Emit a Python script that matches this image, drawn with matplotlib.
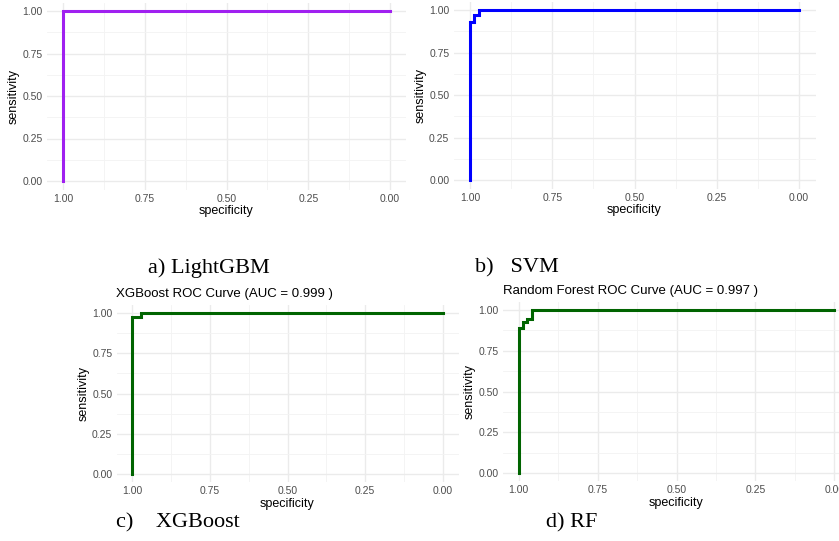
import matplotlib
matplotlib.use("Agg")
import matplotlib.pyplot as plt
import numpy as np

plt.rcParams["font.family"] = ["Liberation Sans", "DejaVu Sans"]

# ROC points (specificity, sensitivity)
lgbm_spec = [1.0, 1.0, 0.0]
lgbm_sens = [0.0, 1.0, 1.0]

svm_spec = [1.0, 1.0, 0.987, 0.972, 0.0]
svm_sens = [0.0, 0.93, 0.97, 1.0, 1.0]

xgb_spec = [1.0, 1.0, 0.972, 0.0]
xgb_sens = [0.0, 0.973, 1.0, 1.0]

rf_spec = [1.0, 1.0, 0.986, 0.974, 0.957, 0.0]
rf_sens = [0.0, 0.888, 0.928, 0.944, 1.0, 1.0]

ticks = [0.0, 0.25, 0.5, 0.75, 1.0]
tick_labels = ["0.00", "0.25", "0.50", "0.75", "1.00"]

W, H = 839, 541
fig = plt.figure(figsize=(W / 100, H / 100), dpi=100)


def add_panel(rect_px, spec, sens, color, title=None):
    l, t, r, b = rect_px
    ax = fig.add_axes([l / W, 1 - b / H, (r - l) / W, (b - t) / H])
    ax.plot(spec, sens, drawstyle="steps-post", color=color, lw=2.2,
            solid_joinstyle="miter", zorder=3)
    ax.set_xlim(1.05, -0.05)
    ax.set_ylim(-0.05, 1.05)
    ax.set_xticks(ticks)
    ax.set_xticklabels(tick_labels)
    ax.set_yticks(ticks)
    ax.set_yticklabels(tick_labels)
    ax.set_xticks(np.arange(0.125, 1, 0.25), minor=True)
    ax.set_yticks(np.arange(0.125, 1, 0.25), minor=True)
    ax.grid(which="major", color="#EBEBEB", lw=1.0)
    ax.grid(which="minor", color="#F3F3F3", lw=0.6)
    ax.set_axisbelow(True)
    for s in ax.spines.values():
        s.set_visible(False)
    ax.tick_params(which="both", length=0, labelsize=7.5, labelcolor="#4D4D4D", pad=3)
    ax.set_xlabel("specificity", fontsize=9, labelpad=1)
    ax.set_ylabel("sensitivity", fontsize=9, labelpad=2)
    if title:
        ax.set_title(title, fontsize=9.5, loc="left", pad=6)
    return ax


add_panel((46.6, 2.5, 406.4, 189.5), lgbm_spec, lgbm_sens, "#A020F0")
add_panel((453.5, 1.5, 815.5, 188.5), svm_spec, svm_sens, "#0000FF")
add_panel((116.5, 305, 458.5, 482), xgb_spec, xgb_sens, "#006400",
          "XGBoost ROC Curve (AUC = 0.999 )")
add_panel((503, 302, 850, 481), rf_spec, rf_sens, "#006400",
          "Random Forest ROC Curve (AUC = 0.997 )")

cap = dict(fontsize=16, family="Liberation Serif", va="center", ha="left")
fig.text(148 / W, 1 - 268 / H, "a) LightGBM", **cap)
fig.text(475 / W, 1 - 268 / H, "b)   SVM", **cap)
fig.text(116 / W, 1 - 523 / H, "c)    XGBoost", **cap)
fig.text(546 / W, 1 - 523 / H, "d) RF", **cap)

fig.savefig("out.png", dpi=100)
